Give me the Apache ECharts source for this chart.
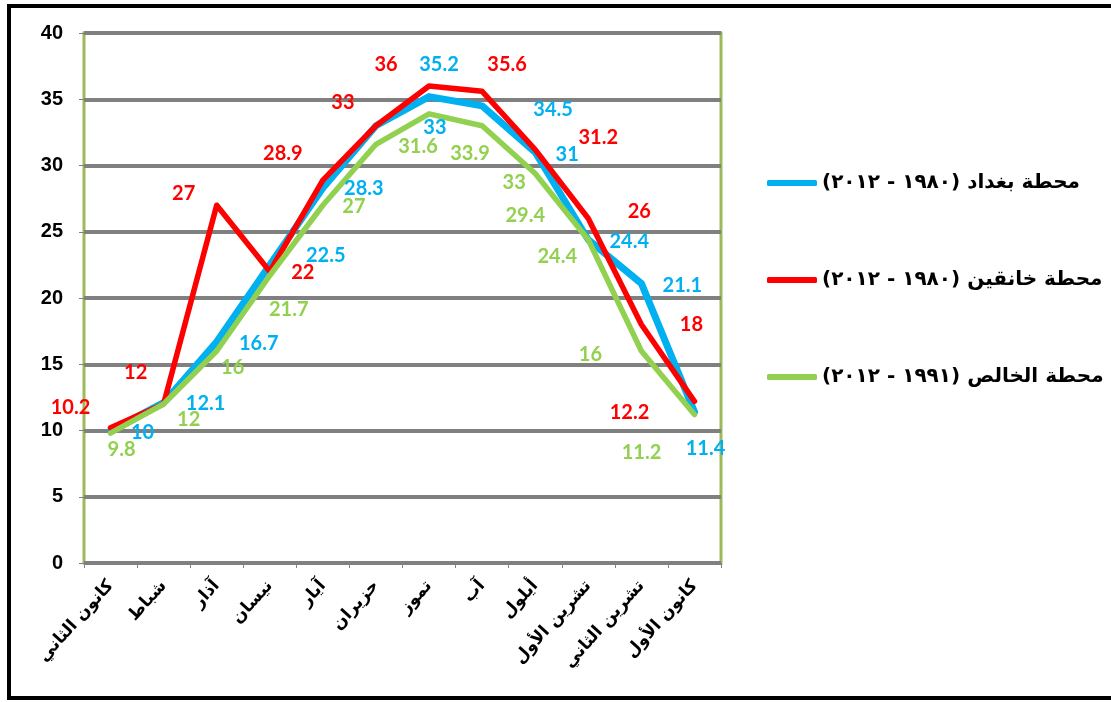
<!DOCTYPE html>
<html>
<head>
<meta charset="utf-8">
<script src="https://cdn.jsdelivr.net/npm/echarts@6/dist/echarts.min.js"></script>
<style>
html,body{margin:0;padding:0;background:#fff;}
#c{width:1111px;height:702px;}
</style>
</head>
<body>
<div id="c"></div>
<script>
// ---- data ----
var months = ['كانون الثاني','شباط','آذار','نيسان','آيار','حزيران','تموز','آب','أيلول','تشرين الأول','تشرين الثاني','كانون الأول'];
var baghdadName = 'محطة بغداد (١٩٨٠ - ٢٠١٢)';
var khanaqinName = 'محطة خانقين (١٩٨٠ - ٢٠١٢)';
var khalisName = 'محطة الخالص (١٩٩١ - ٢٠١٢)';
var baghdad = [10, 12.1, 16.7, 22.5, 28.3, 33, 35.2, 34.5, 31, 24.4, 21.1, 11.4];
var khanaqin = [10.2, 12, 27, 22, 28.9, 33, 36, 35.6, 31.2, 26, 18, 12.2];
var khalis = [9.8, 12, 16, 21.7, 27, 31.6, 33.9, 33, 29.4, 24.4, 16, 11.2];
var yTicks = [0, 5, 10, 15, 20, 25, 30, 35, 40];

// ---- label placement (layout only, as in the reference's hand-moved labels) ----
var baghdadLabelOffsets = [[32,2],[42,1],[42,2],[56,-9],[41,1],[59,2],[10,-32],[71,4],[32,2],[41,2],[41,2],[11,37]];
var khanaqinLabelOffsets = [[-40,-20],[-28,-31],[-33,-12],[33,1],[-40,-27],[-33,-23],[-43,-21],[25,-27],[63,-12],[51,-7],[50,0],[-65,11]];
var khalisLabelOffsets = [[11,16],[25,16],[16,17],[19,34],[31,1],[42,2],[41,40],[32,57],[-10,42],[-31,17],[-51,4],[-53,38]];

var RLM = '\u200F';
function rtl(s){ return RLM + s + RLM; }

function withLabels(values, offsets){
  return values.map(function(v, i){
    return { value: v, label: { offset: offsets[i] } };
  });
}

function makeSeries(name, values, offsets, color, width){
  return {
    name: rtl(name),
    type: 'line',
    data: withLabels(values, offsets),
    symbol: 'circle',
    symbolSize: 0.1,
    showSymbol: true,
    lineStyle: { color: color, width: width, cap: 'round', join: 'round' },
    itemStyle: { color: color },
    label: {
      show: true,
      position: 'inside',
      color: color,
      fontFamily: 'Lato',
      fontWeight: 'bold',
      fontSize: 20
    },
    emphasis: { disabled: true },
    animation: false
  };
}

var chart = echarts.init(document.getElementById('c'), null, { renderer: 'canvas' });
chart.setOption({
  backgroundColor: '#fff',
  animation: false,
  grid: {
    left: 84, right: 390, top: 33, bottom: 139,
    show: true, borderColor: '#9BBB59', borderWidth: 3,
    containLabel: false
  },
  legend: {
    orient: 'vertical',
    left: 762,
    top: 168,
    itemWidth: 50,
    itemHeight: 6,
    itemGap: 77,
    icon: 'roundRect',
    data: [rtl(baghdadName), rtl(khanaqinName), rtl(khalisName)],
    textStyle: {
      fontFamily: 'DejaVu Sans',
      fontWeight: 'bold',
      fontSize: 20,
      color: '#000'
    },
    selectedMode: false
  },
  xAxis: {
    type: 'category',
    data: months,
    boundaryGap: true,
    axisLine: { show: false },
    axisTick: { show: true, length: 5, lineStyle: { color: '#808080', width: 1 } },
    axisLabel: {
      rotate: 48,
      margin: 20,
      interval: 0,
      color: '#000',
      fontFamily: 'DejaVu Sans',
      fontWeight: 'bold',
      fontSize: 17,
      formatter: function(v){ return rtl(v); }
    },
    splitLine: { show: false }
  },
  yAxis: {
    type: 'value',
    min: yTicks[0],
    max: yTicks[yTicks.length - 1],
    interval: 5,
    axisLine: { show: false },
    axisTick: { show: true, length: 5, lineStyle: { color: '#808080', width: 1 } },
    axisLabel: {
      margin: 21,
      color: '#000',
      fontFamily: 'Liberation Sans',
      fontWeight: 'bold',
      fontSize: 20
    },
    splitLine: { show: true, lineStyle: { color: '#808080', width: 4 } }
  },
  graphic: [{
    type: 'rect',
    silent: true,
    z: 100,
    shape: { x: 9, y: 6, width: 1120, height: 692 },
    style: { fill: 'none', stroke: '#000', lineWidth: 4 }
  }],
  series: [
    makeSeries(baghdadName, baghdad, baghdadLabelOffsets, '#00B0F0', 7),
    makeSeries(khanaqinName, khanaqin, khanaqinLabelOffsets, '#FF0000', 5.5),
    makeSeries(khalisName, khalis, khalisLabelOffsets, '#92D050', 5.5)
  ]
});
</script>
</body>
</html>
